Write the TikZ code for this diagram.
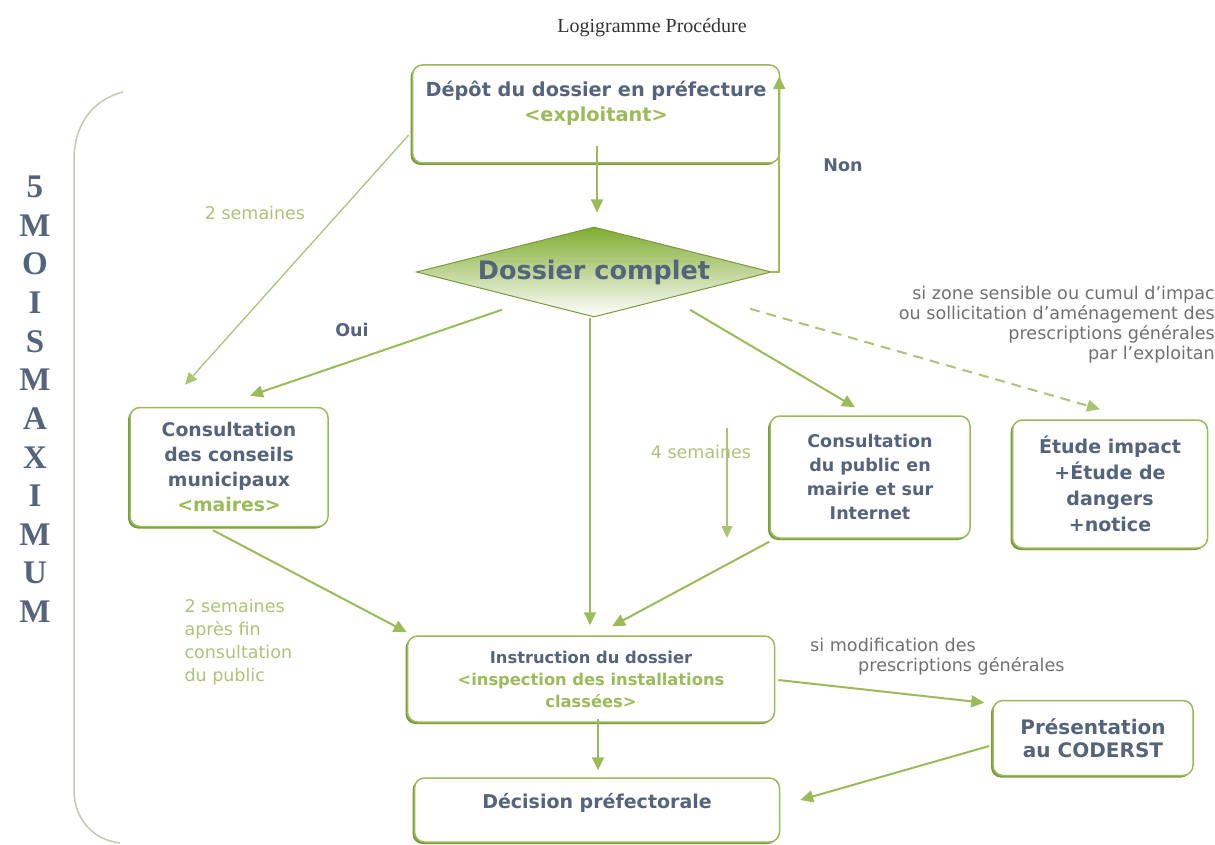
\documentclass[tikz,border=0pt]{standalone}
\usepackage{fontspec}
\setmainfont{DejaVu Sans}
\newfontfamily\titrefont{Liberation Serif}
\usetikzlibrary{shapes.geometric,arrows.meta,calc,shadows}

\definecolor{vert}{RGB}{155,187,89}
\definecolor{vertombre}{RGB}{122,152,62}
\definecolor{vertclair}{RGB}{172,196,118}
\definecolor{vertlosange}{RGB}{128,172,48}
\definecolor{ardoise}{RGB}{84,100,124}
\definecolor{gristexte}{RGB}{112,112,112}
\definecolor{accolade}{RGB}{196,200,180}

\tikzset{
  etape/.style={draw=vert, line width=1.5pt, rounded corners=10pt, fill=white,
    align=center, text=ardoise, inner sep=0pt,
    font=\fontsize{18.8}{25}\selectfont\bfseries,
    drop shadow={shadow xshift=-2pt, shadow yshift=-2pt, fill=vertombre, opacity=1}},
  losange/.style={diamond, aspect=3.95, minimum width=355pt, minimum height=90pt,
    inner sep=0pt, draw=vertombre, line width=1pt, top color=vertlosange, bottom color=white,
    text=ardoise, font=\fontsize{25.5}{30}\selectfont\bfseries},
  fleche/.style={draw=vert, line width=2pt, -{Triangle[length=13pt,width=12pt]}},
  fin/.style={draw=vertclair, line width=1.3pt, -{Triangle[length=12pt,width=11pt]}},
  note/.style={text=vertclair, font=\fontsize{17.5}{23}\selectfont, align=left},
  remarque/.style={text=gristexte, font=\fontsize{17.6}{20}\selectfont},
  choix/.style={text=ardoise, font=\fontsize{17.5}{20}\selectfont\bfseries},
  duree/.style={text=ardoise, font=\titrefont\fontsize{33}{33}\selectfont\bfseries},
  titre/.style={text=black!80, font=\titrefont\fontsize{20}{24}\selectfont},
}

\begin{document}
\begin{tikzpicture}[y=1pt, x=1pt, yscale=-1]
    \fill[white] (0,0) rectangle (1215,845);
    \useasboundingbox (0,0) rectangle (1215,845);
    \begin{scope}[]% layer1
      % titre
      \node[titre] (titre) at (652,28) {Logigramme Procédure};

      % accolade et duree
      \draw[accolade, line width=1.5pt] (123,92) .. controls (92,100) and (74,125) .. (74,160)
          -- (74,790) .. controls (74,820) and (94,840) .. (120,843);
      \foreach \lettre [count=\i from 0] in {5,M,O,I,S,M,A,X,I,M,U,M}
        \node[duree] (m\i) at (35,187+38.6*\i) {\lettre};

      % boites
      \node[etape, minimum width=367pt, minimum height=98pt,
          font=\fontsize{19.3}{25}\selectfont\bfseries] (depot) at (596,114)
          {Dépôt du dossier en préfecture\\\textcolor{vert}{<exploitant>}\\\mbox{}};
      \node[losange] (complet) at (594,272) {Dossier complet};
      \node[etape, minimum width=198pt, minimum height=119pt] (conseils) at (229,467)
          {Consultation\\des conseils\\municipaux\\\textcolor{vert}{<maires>}};
      \node[etape, minimum width=200pt, minimum height=122pt,
          font=\fontsize{17.5}{24}\selectfont\bfseries] (public) at (870,477)
          {Consultation\\du public en\\mairie et sur\\Internet};
      \node[etape, minimum width=195pt, minimum height=128pt,
          font=\fontsize{19}{26}\selectfont\bfseries] (etude) at (1110,484)
          {Étude impact\\+Étude de\\dangers\\+notice};
      \node[etape, minimum width=367pt, minimum height=86pt,
          font=\fontsize{16.3}{22}\selectfont\bfseries] (instruction) at (591,679)
          {Instruction du dossier\\\textcolor{vert}{<inspection des installations}\\\textcolor{vert}{classées>}};
      \node[etape, minimum width=365pt, minimum height=64pt,
          font=\fontsize{19}{24}\selectfont\bfseries] (decision) at (597,810)
          {Décision préfectorale\\[-6pt]\mbox{}};
      \node[etape, minimum width=200pt, minimum height=75pt,
          font=\fontsize{20}{23}\selectfont\bfseries] (presentation) at (1093,738)
          {Présentation\\au CODERST};

      % textes
      \node[choix] (non) at (843,165) {Non};
      \node[choix] (oui) at (352,330) {Oui};
      \node[note] (deuxsem) at (255,213) {2 semaines};
      \node[note] (quatresem) at (701,452) {4 semaines};
      \node[note, anchor=west] (apres) at (181,642) {2 semaines\\après fin\\consultation\\du public};
      \node[remarque, align=right, anchor=north east, inner sep=0pt] (zone) at (1215,286)
          {si zone sensible ou cumul d'impac\\ou sollicitation d'aménagement des\\prescriptions générales\\par l'exploitan};
      \node[remarque, align=left, anchor=north west, inner sep=0pt] (modif) at (810,638)
          {si modification des\\\hspace{48pt}prescriptions générales};

      % fleches
      \draw[fleche, shorten >=14pt] ($(depot.south)+(1,-18)$) -- ($(complet.north)+(3,0)$);
      \draw[fleche] (complet.east) -| ($(depot.north east)+(-1,12)$);
      \draw[fin] ($(depot.west)+(-3,21)$) -- ($(conseils.north)+(-44,-22)$);
      \draw[fleche] ($(complet.south west)+(-3,15)$) -- ($(conseils.north)+(21,-11)$);
      \draw[fleche, shorten >=10pt] ($(complet.south)+(-4,0)$) -- ($(instruction.north)+(-1,0)$);
      \draw[fleche] ($(complet.south east)+(7,15)$) -- ($(public.north)+(-15,-8)$);
      \draw[fleche, draw=vertclair, dash pattern=on 10pt off 7pt] ($(complet.south east)+(67,14)$) -- ($(etude.north)+(-10,-10)$);
      \coordinate (q1) at (727,428);
      \coordinate (q2) at (727,538);
      \draw[fin] (q1) -- (q2);
      \draw[fleche] ($(conseils.south)+(-16,3)$) -- ($(instruction.north west)+(0,-3)$);
      \draw[fleche] ($(public.south west)+(0,3)$) -- ($(instruction.north)+(21,-9)$);
      \draw[fleche, shorten >=7pt] ($(instruction.south)+(7,-4)$) -- ($(decision.north)+(1,0)$);
      \draw[fleche] ($(instruction.east)+(3,1)$) -- ($(presentation.north west)+(-8,3)$);
      \draw[fleche] ($(presentation.west)+(-3,8)$) -- ($(decision.east)+(20,-10)$);
    \end{scope}
\end{tikzpicture}
\end{document}
